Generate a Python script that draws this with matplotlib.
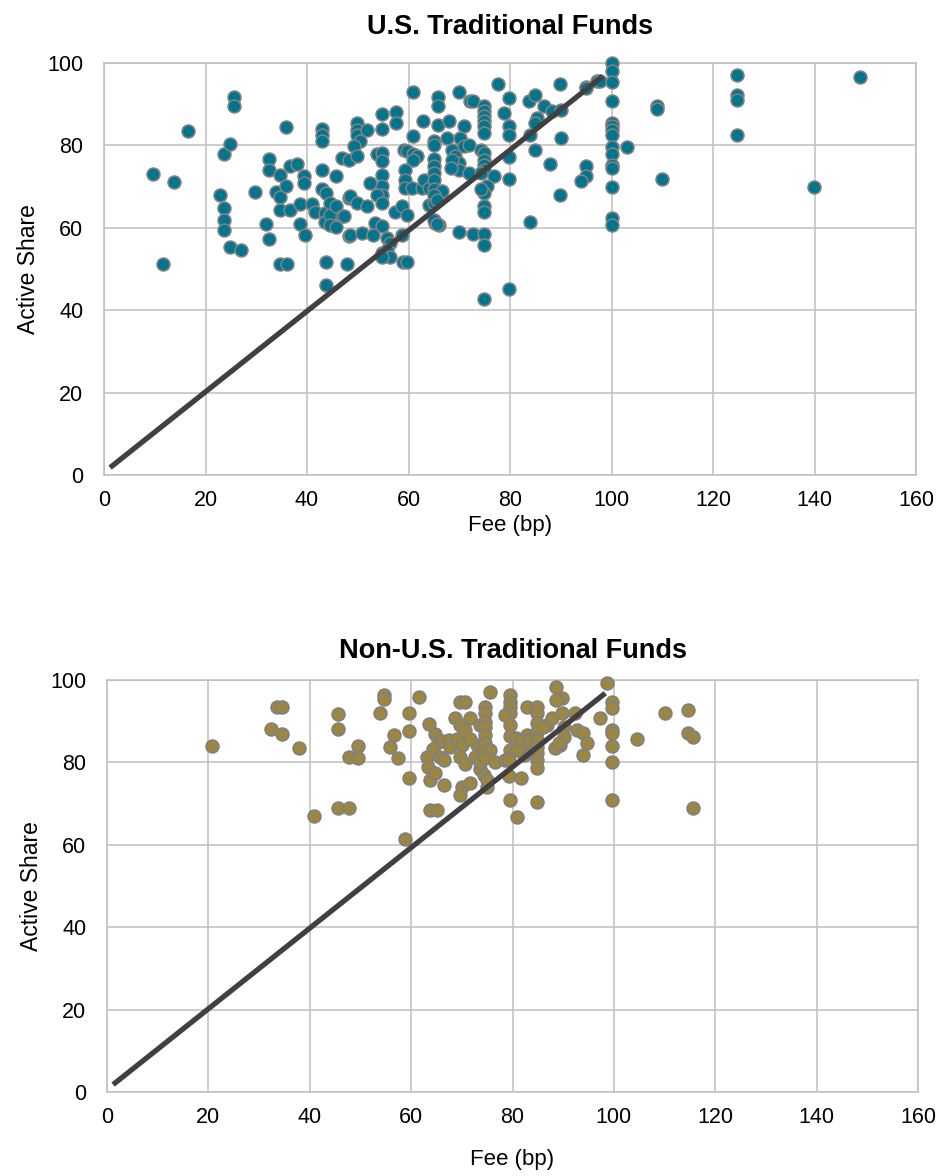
import matplotlib
matplotlib.use("Agg")
import matplotlib.pyplot as plt
import numpy as np

plt.rcParams['font.family'] = ['Liberation Sans', 'DejaVu Sans']

# ---------------- data ----------------
us_fee = [9.7, 13.8, 11.7, 16.6,
          22.8, 23.6, 24.9, 25.7, 25.7,
          23.6, 23.6, 23.6, 24.9, 27.0,
          29.7, 31.9, 32.6, 32.6, 32.6,
          33.9, 34.7, 34.7, 34.6, 34.7, 36.1,
          35.9, 35.9, 36.7, 38.0, 36.7,
          38.7, 38.7, 39.5, 39.5, 39.7,
          40.9, 41.6,
          43.0, 43.0, 43.0, 43.0, 43.0, 43.8, 43.6, 43.6, 43.8, 43.8,
          44.6, 44.6, 44.6, 45.7, 45.7, 45.7,
          46.9, 48.2, 46.9, 48.2, 48.2, 47.8, 47.2,
          49.8, 49.8, 49.8, 50.5, 51.9, 49.2, 49.8,
          48.5, 49.8, 51.8, 48.5, 50.8,
          53.4, 54.8, 55.8, 56.4, 54.8, 53.1, 55.8, 56.4, 54.8,
          54.8, 54.8, 57.6, 57.6,
          53.8, 54.8, 54.8, 54.8, 54.8, 54.8, 53.8, 52.5, 54.8,
          57.4, 58.7, 59.7, 58.7, 58.9, 59.7,
          60.9, 60.9, 59.1, 59.7, 60.9, 61.7, 60.9,
          59.4, 59.4, 59.4, 60.7, 62.7, 63.0, 64.0,
          62.9, 65.8, 65.8, 65.8, 65.0, 65.0,
          65.0, 65.0, 65.0, 65.0, 65.0, 66.6, 65.0, 64.0, 65.0, 65.6,
          65.3, 66.0, 65.0,
          67.9, 67.6, 69.9, 70.9,
          68.6, 69.2, 69.9, 69.9, 68.6, 68.3,
          70.2, 70.9, 71.9, 69.9,
          72.2, 72.8, 74.8, 74.8, 74.8, 74.8, 74.8, 74.8,
          77.6, 79.8, 78.8, 79.8, 79.8,
          83.7, 85.0, 86.7, 85.4, 85.0, 88.3, 90.0, 84.0,
          89.8, 94.9, 97.2, 94.9, 97.8,
          71.9, 74.2, 74.8, 74.8, 74.8, 74.8, 74.2, 76.8,
          75.5, 74.8, 74.2, 74.8, 74.8,
          79.8, 79.8, 85.0, 87.8, 90.0,
          94.9, 94.9, 93.9, 89.8, 83.9,
          72.8, 74.8, 74.8, 74.8, 79.8, 65.7,
          100, 100, 100, 100, 100, 100, 100, 100, 100, 100, 100, 100, 100, 100, 100,
          103.0, 108.9, 108.9, 110.0, 124.8, 124.8, 124.8, 124.8, 139.9, 148.9]
us_share = [73.0, 71.0, 51.3, 83.4,
            67.9, 77.9, 80.4, 91.7, 89.5,
            64.8, 61.8, 59.4, 55.3, 54.7,
            68.8, 60.9, 57.2, 76.8, 74.0,
            68.8, 67.4, 72.9, 64.2, 51.3, 51.3,
            84.4, 70.2, 74.9, 75.5, 64.2,
            65.8, 60.9, 72.5, 70.9, 58.3,
            65.8, 63.8,
            84.0, 82.6, 81.0, 74.1, 69.5, 68.4, 63.7, 61.3, 51.8, 46.2,
            66.0, 63.2, 60.6, 72.5, 65.4, 60.3,
            76.9, 76.5, 62.9, 67.2, 58.1, 51.3, 62.8,
            85.5, 83.8, 82.6, 81.0, 83.8, 79.8, 77.4,
            67.6, 66.0, 65.4, 58.3, 58.7,
            61.2, 60.4, 57.5, 56.3, 53.9, 58.3, 54.7, 53.0, 52.8,
            87.6, 84.0, 88.1, 85.5,
            77.8, 78.1, 76.1, 72.9, 70.1, 68.0, 68.0, 70.9, 66.0,
            63.8, 65.2, 63.2, 58.3, 51.8, 51.8,
            93.0, 82.2, 79.0, 78.6, 77.8, 77.4, 76.5,
            74.1, 71.7, 69.7, 69.7, 69.7, 71.7, 69.7,
            86.0, 91.7, 89.5, 85.0, 81.0, 80.2,
            76.7, 74.9, 73.3, 71.7, 69.3, 69.0, 68.0, 65.6, 66.0, 66.8,
            61.2, 60.8, 62.0,
            86.0, 81.8, 93.0, 84.6,
            79.0, 77.4, 75.7, 74.1, 76.5, 74.5,
            81.8, 79.8, 73.3, 59.1,
            90.7, 90.7, 89.5, 88.3, 87.1, 85.9, 84.6, 83.0,
            95.0, 91.5, 87.9, 84.6, 82.6,
            90.7, 92.3, 89.5, 86.7, 85.5, 88.3, 88.7, 82.6,
            95.0, 94.1, 95.6, 93.9, 95.6,
            80.2, 79.0, 78.2, 76.5, 75.3, 74.1, 73.3, 72.5,
            70.1, 68.4, 69.3, 65.2, 63.8,
            77.3, 71.9, 79.0, 75.5, 81.7,
            75.1, 72.5, 71.3, 67.9, 61.3,
            58.5, 58.5, 55.9, 42.7, 45.2, 60.9,
            100.0, 98.0, 95.4, 90.7, 85.5, 84.6, 83.8, 82.5, 79.6, 78.0, 75.3, 74.5, 69.9, 62.4, 60.8,
            79.5, 89.5, 88.9, 71.9, 97.2, 92.3, 91.0, 82.5, 69.9, 96.6]

nonus_fee = [20.7, 33.5, 34.5, 32.4, 34.5, 37.8, 45.6, 45.6, 49.6, 47.7, 49.6, 40.8, 45.6, 47.7,
             54.6, 54.6, 53.8, 61.5, 59.5, 59.5, 56.6, 55.9, 57.5, 59.5, 58.7,
             63.6, 64.8, 65.4, 66.0, 67.4, 67.7, 64.4, 65.7, 66.4, 63.1, 63.4, 63.8, 64.8, 66.4, 63.8, 65.1,
             68.7, 69.7, 70.7, 69.0, 70.0, 69.7, 70.7, 70.0, 69.7, 71.7, 72.7, 73.6, 74.3, 74.9, 74.9,
             69.7, 70.7, 71.7, 73.6, 73.0, 71.7, 73.6,
             74.6, 74.6, 74.6, 74.6, 74.6, 74.6, 74.6, 75.6, 74.6, 75.5, 76.6, 78.6,
             79.6, 79.6, 79.6, 79.6, 78.6, 79.6, 79.6, 80.6, 79.6, 79.3, 79.3, 81.6, 79.6, 80.9,
             82.8, 82.8, 82.8, 82.2, 81.9, 80.9, 83.5,
             84.8, 84.8, 84.8, 84.8, 84.8, 84.8, 84.8, 84.8, 84.8, 84.8,
             86.8, 87.8, 89.8, 90.1, 90.1, 89.4, 88.4, 86.1, 89.2,
             88.6, 89.7, 88.6,
             92.4, 92.7, 94.0, 94.7, 93.9, 97.3,
             98.6, 99.6, 99.6, 99.6, 99.6, 99.6, 99.6, 99.6,
             104.6, 110.0, 114.7, 114.7, 115.7, 115.6]
nonus_share = [84.0, 93.5, 93.5, 88.0, 87.0, 83.6, 91.7, 88.0, 84.0, 81.4, 81.0, 67.0, 69.0, 69.0,
               96.4, 95.3, 92.0, 95.8, 92.0, 87.6, 86.7, 83.7, 81.0, 76.1, 61.4,
               89.3, 86.9, 85.0, 85.3, 85.4, 83.8, 83.2, 81.4, 80.6, 81.4, 79.0, 75.7, 77.5, 74.5, 68.4, 68.4,
               90.7, 89.1, 87.9, 85.8, 84.2, 81.4, 79.7, 74.1, 72.1, 74.9, 81.4, 78.5, 76.9, 74.1, 75.7,
               94.7, 94.7, 90.7, 89.1, 84.2, 85.8, 80.2,
               93.5, 91.9, 89.9, 88.7, 86.7, 84.6, 83.0, 83.0, 81.0, 97.2, 80.2, 80.6,
               96.4, 94.7, 93.5, 91.9, 91.5, 89.1, 86.3, 85.9, 83.0, 80.6, 76.6, 76.1, 70.9, 66.8,
               93.5, 86.7, 84.2, 81.8, 85.4, 83.0, 85.4,
               93.5, 91.9, 89.5, 87.5, 85.4, 83.8, 82.2, 80.6, 78.6, 70.5,
               89.0, 90.7, 91.9, 88.7, 86.2, 84.2, 83.4, 88.7, 84.6,
               98.2, 95.6, 95.1,
               91.9, 87.9, 87.2, 84.6, 81.8, 90.7,
               99.2, 94.7, 93.1, 87.9, 87.1, 84.0, 80.0, 70.9,
               85.6, 92.0, 92.6, 87.2, 86.1, 69.0]

# reference line (fee = active share)
line_x = [1.2, 98.3]
line_y = [1.8, 96.8]

x_ticks = [0, 20, 40, 60, 80, 100, 120, 140, 160]
y_ticks = [0, 20, 40, 60, 80, 100]

panels = [
    ("U.S. Traditional Funds", us_fee, us_share, "#00758F",
     [104 / 946, 1 - 475 / 1176, (916 - 104) / 946, (475 - 63) / 1176], 21, 3),
    ("Non-U.S. Traditional Funds", nonus_fee, nonus_share, "#9B8642",
     [107 / 946, 1 - 1092 / 1176, (918 - 107) / 946, (1092 - 680) / 1176], 16, 15),
]

fig = plt.figure(figsize=(9.46, 11.76), dpi=100)
grid_c = "#BFBFBF"
for title, xs, ys, col, rect, tpad, xlpad in panels:
    ax = fig.add_axes(rect)
    ax.set_xlim(0, 160)
    ax.set_ylim(0, 100)
    ax.set_xticks(x_ticks)
    ax.set_yticks(y_ticks)
    ax.grid(True, color=grid_c, linewidth=1.1)
    ax.set_axisbelow(True)
    for sp in ax.spines.values():
        sp.set_color(grid_c)
        sp.set_linewidth(1.1)
    ax.tick_params(axis="x", length=0, labelsize=15.5, pad=11, colors="black")
    ax.tick_params(axis="y", length=0, labelsize=15.5, pad=15, colors="black")
    ax.scatter(xs, ys, s=85, c=col, edgecolors="#808080", linewidths=1.2, zorder=3, clip_on=False)
    ax.plot(line_x, line_y, color="#404040", linewidth=3.8, solid_capstyle="butt", zorder=4)
    ax.set_title(title, fontsize=19.5, fontweight="bold", pad=tpad)
    ax.set_xlabel("Fee (bp)", fontsize=16, labelpad=xlpad)
    ax.set_ylabel("Active Share", fontsize=16.5, labelpad=5)

fig.savefig("out.png", dpi=100)
